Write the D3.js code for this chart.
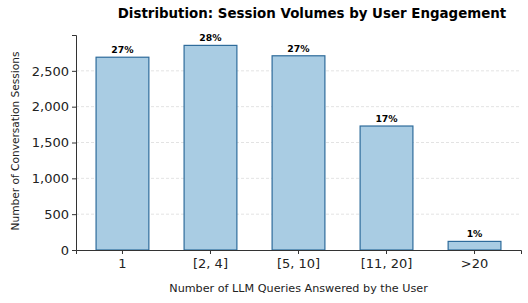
<!DOCTYPE html>
<html>
<head>
<meta charset="utf-8">
<script src="https://cdn.jsdelivr.net/npm/d3@7"></script>
<style>
  body { margin: 0; background: #fff; }
  text { font-family: "DejaVu Sans", sans-serif; }
</style>
</head>
<body>
<div id="chart"></div>
<script>
// data
var categories = ["1", "[2, 4]", "[5, 10]", "[11, 20]", ">20"];
var sessions = [2690, 2855, 2710, 1730, 120];
var percentLabels = ["27%", "28%", "27%", "17%", "1%"];
var yTicks = [0, 500, 1000, 1500, 2000, 2500];

var W = 528, H = 303;
var margin = {top: 35, right: 7, bottom: 53, left: 76},
    width = W - margin.left - margin.right,
    height = H - margin.top - margin.bottom;

var svg = d3.select("#chart").append("svg")
  .attr("width", W).attr("height", H);

svg.append("text")
  .attr("x", 312).attr("y", 18)
  .attr("text-anchor", "middle")
  .style("font-size", "13.4px").style("font-weight", "bold")
  .text("Distribution: Session Volumes by User Engagement");

var g = svg.append("g")
  .attr("transform", "translate(" + margin.left + "," + margin.top + ")");

var x = d3.scaleBand()
  .domain(categories)
  .range([0, width])
  .paddingInner(0.4)
  .paddingOuter(0.228);

var y = d3.scaleLinear()
  .domain([0, 3000])
  .range([height, 0]);

// grid
g.selectAll(".grid")
  .data(yTicks.slice(1))
  .enter().append("line")
  .attr("x1", 0).attr("x2", width)
  .attr("y1", function(d) { return y(d); })
  .attr("y2", function(d) { return y(d); })
  .attr("stroke", "#dcdcdc")
  .attr("stroke-width", 0.8)
  .attr("stroke-dasharray", "3,2");

// bars
g.selectAll(".bar")
  .data(sessions)
  .enter().append("rect")
  .attr("x", function(d, i) { return x(categories[i]); })
  .attr("width", x.bandwidth())
  .attr("y", function(d) { return y(d); })
  .attr("height", function(d) { return height - y(d); })
  .attr("fill", "#a9cce3")
  .attr("stroke", "#2e6b9b")
  .attr("stroke-width", 1.2);

// percent labels
g.selectAll(".pct")
  .data(sessions)
  .enter().append("text")
  .attr("x", function(d, i) { return x(categories[i]) + x.bandwidth() / 2; })
  .attr("y", function(d) { return y(d) - 4; })
  .attr("text-anchor", "middle")
  .style("font-size", "9.3px").style("font-weight", "bold")
  .text(function(d, i) { return percentLabels[i]; });

// axes
var xAxis = g.append("g")
  .attr("transform", "translate(0," + height + ")")
  .call(d3.axisBottom(x).tickSizeOuter(0).tickSize(4).tickPadding(5));
xAxis.selectAll("text").style("font-size", "13px").attr("fill", "#222");

var yAxis = g.append("g")
  .call(d3.axisLeft(y).tickValues(yTicks).tickFormat(d3.format(",")).tickSizeOuter(0).tickSize(4).tickPadding(3));
yAxis.selectAll("text").style("font-size", "13px").attr("fill", "#222");

svg.selectAll(".domain").attr("stroke", "#333");
svg.selectAll(".tick line").attr("stroke", "#333");

// axis titles
svg.append("text")
  .attr("x", margin.left + width / 2).attr("y", 292)
  .attr("text-anchor", "middle")
  .style("font-size", "11.2px").attr("fill", "#222")
  .text("Number of LLM Queries Answered by the User");

svg.append("text")
  .attr("transform", "translate(19,141)rotate(-90)")
  .attr("text-anchor", "middle")
  .style("font-size", "10.6px").attr("fill", "#222")
  .text("Number of Conversation Sessions");
</script>
</body>
</html>
